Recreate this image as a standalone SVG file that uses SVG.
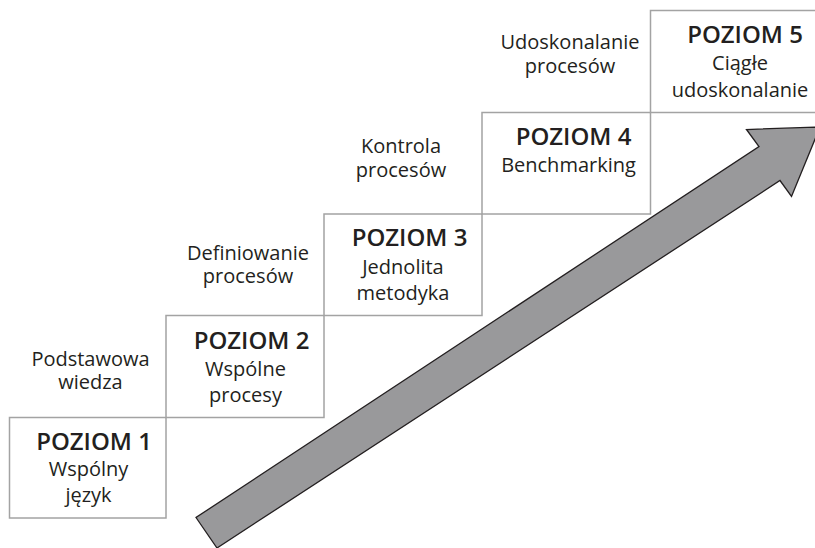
<svg xmlns="http://www.w3.org/2000/svg" width="815" height="548" viewBox="0 0 815 548">
  <style>
    .box { fill: none; stroke: #a3a3a3; stroke-width: 1.5; }
    .title { font-family: "Open Sans", "Noto Sans", sans-serif; font-weight: 600; font-size: 24px; fill: #231f20; text-anchor: middle; }
    .sub { font-family: "Open Sans", "Noto Sans", sans-serif; font-size: 20px; fill: #231f20; text-anchor: middle; }
    .arrow { fill: #99999b; stroke: #231f20; stroke-width: 1.3; stroke-linejoin: miter; }
  </style>
  <rect width="815" height="548" fill="#ffffff"/>

  <!-- stair levels -->
  <g id="level1">
    <rect class="box" x="9.5" y="417.5" width="156.5" height="100.5"/>
    <text class="title" x="94" y="450">POZIOM 1</text>
    <text class="sub" x="88.5" y="476">Wspólny</text>
    <text class="sub" x="88.5" y="502">język</text>
  </g>
  <g id="level2">
    <rect class="box" x="166" y="315.5" width="158" height="102"/>
    <text class="title" x="251.5" y="349">POZIOM 2</text>
    <text class="sub" x="245.5" y="376">Wspólne</text>
    <text class="sub" x="245.5" y="402">procesy</text>
  </g>
  <g id="level3">
    <rect class="box" x="324" y="214" width="158" height="101.5"/>
    <text class="title" x="409.5" y="246">POZIOM 3</text>
    <text class="sub" x="403" y="274">Jednolita</text>
    <text class="sub" x="403" y="300">metodyka</text>
  </g>
  <g id="level4">
    <rect class="box" x="482" y="112.5" width="168.5" height="101.5"/>
    <text class="title" x="573.5" y="145">POZIOM 4</text>
    <text class="sub" x="568.5" y="172">Benchmarking</text>
  </g>
  <g id="level5">
    <rect class="box" x="650.5" y="10.5" width="180" height="102"/>
    <text class="title" x="745" y="43">POZIOM 5</text>
    <text class="sub" x="740" y="70">Ciągłe</text>
    <text class="sub" x="740" y="97">udoskonalanie</text>
  </g>

  <!-- step labels -->
  <g id="label1">
    <text class="sub" x="90.5" y="366">Podstawowa</text>
    <text class="sub" x="90.5" y="389">wiedza</text>
  </g>
  <g id="label2">
    <text class="sub" x="248" y="260">Definiowanie</text>
    <text class="sub" x="248" y="283">procesów</text>
  </g>
  <g id="label3">
    <text class="sub" x="401" y="153">Kontrola</text>
    <text class="sub" x="401" y="177">procesów</text>
  </g>
  <g id="label4">
    <text class="sub" x="570" y="49">Udoskonalanie</text>
    <text class="sub" x="570" y="73">procesów</text>
  </g>

  <!-- rising arrow -->
  <g id="connectors">
    <polygon class="arrow" points="196,517.5 217,548 780,180.5 791.5,196.5 820,127 746.5,129.5 759,146.5"/>
  </g>
</svg>
